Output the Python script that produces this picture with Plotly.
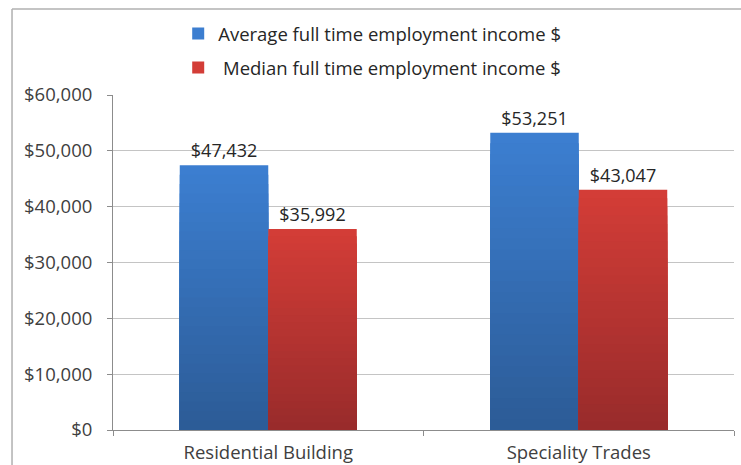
import plotly.graph_objects as go

# Employment income by construction sub-sector
categories = ["Residential Building", "Speciality Trades"]
average_income = [47432, 53251]
median_income = [35992, 43047]
series_names = ["Average full time employment income $", " Median full time employment income $"]

y_ticks = [0, 10000, 20000, 30000, 40000, 50000, 60000]
y_tick_labels = ["$0", "$10,000", "$20,000", "$30,000", "$40,000", "$50,000", "$60,000"]

FONT = "'Open Sans', 'Noto Sans', sans-serif"
TEXT = "#404040"
SIZE = 18.5

# vertical gradient: (top colour, bottom colour) per series
BLUE = ((0x3C, 0x7F, 0xD1), (0x2C, 0x5B, 0x96))
RED = ((0xD4, 0x3D, 0x37), (0x98, 0x2B, 0x2B))
STEPS = 28


def lerp(top, bottom, h):
    r, g, b = (int(round(bottom[i] + (top[i] - bottom[i]) * h)) for i in range(3))
    return f"rgb({r},{g},{b})"


fig = go.Figure()


def add_gradient_series(values, colours, name, group):
    top, bottom = colours
    for k in range(STEPS):
        frac = 1 - k / STEPS                # this layer reaches frac * value
        mid = frac - 0.5 / STEPS            # colour of the visible band
        first = k == 0
        fig.add_trace(go.Bar(
            x=categories,
            y=[v * frac for v in values],
            name=name,
            legendgroup=group,
            offsetgroup=group,
            showlegend=first,
            marker=dict(color=lerp(top, bottom, mid), line=dict(width=0)),
            text=[f"${v:,}" for v in values] if first else None,
            textposition="outside" if first else "none",
            textfont=dict(family=FONT, size=18, color="#262626"),
            cliponaxis=False,
            hoverinfo="skip",
        ))


add_gradient_series(average_income, BLUE, series_names[0], "avg")
add_gradient_series(median_income, RED, series_names[1], "med")

fig.update_layout(
    width=741,
    height=465,
    barmode="group",
    bargap=0.43,
    bargroupgap=0,
    paper_bgcolor="white",
    plot_bgcolor="white",
    margin=dict(l=113, r=7, t=95, b=35),
    font=dict(family=FONT, size=SIZE, color=TEXT),
    legend=dict(
        x=0.105, y=1.239, xanchor="left", yanchor="top",
        orientation="v",
        tracegroupgap=7,
        font=dict(family=FONT, size=SIZE, color="#262626"),
        bgcolor="rgba(0,0,0,0)",
        itemclick=False,
    ),
    xaxis=dict(
        type="category",
        automargin=False,
        showgrid=False,
        showline=True,
        linecolor="#8c8c8c",
        linewidth=1,
        ticks="outside",
        tickson="boundaries",
        ticklen=5,
        tickcolor="#8c8c8c",
        ticklabelstandoff=6,
        tickfont=dict(family=FONT, size=SIZE, color=TEXT),
    ),
    yaxis=dict(
        range=[0, 60000],
        automargin=False,
        tickvals=y_ticks,
        ticktext=y_tick_labels,
        showgrid=True,
        gridcolor="#c4c4c4",
        gridwidth=1,
        zeroline=False,
        showline=True,
        linecolor="#8c8c8c",
        linewidth=1,
        ticks="outside",
        ticklen=5,
        tickcolor="#8c8c8c",
        ticklabelstandoff=11,
        tickfont=dict(family=FONT, size=SIZE, color=TEXT),
    ),
    shapes=[
        # chart frame (left and top edges)
        dict(type="line", xref="paper", yref="paper",
             x0=-0.1626, x1=-0.1626, y0=1.2567, y1=-0.2,
             line=dict(color="#b0b0b0", width=1.5)),
        dict(type="line", xref="paper", yref="paper",
             x0=-0.1626, x1=1.02, y0=1.2567, y1=1.2567,
             line=dict(color="#b0b0b0", width=1.5)),
    ],
)

fig.write_html("out.html")
